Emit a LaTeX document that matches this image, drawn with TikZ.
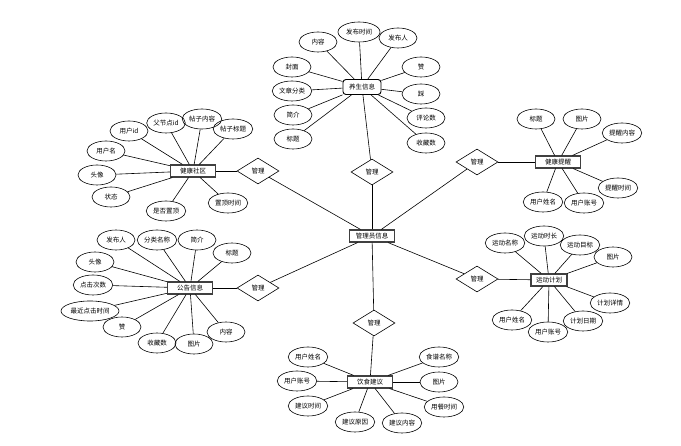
\documentclass[tikz,border=0pt]{standalone}
\usepackage{fontspec}
\newfontfamily\cjk{Noto Sans CJK SC}
\usetikzlibrary{shapes.geometric}

\begin{document}
\begin{tikzpicture}[x=1pt,y=-1pt,line width=0.6pt,
	every node/.append style={font=\cjk\fontsize{6.5}{7}\selectfont},
	attr/.style={draw,ellipse,minimum width=38pt,minimum height=20pt,inner sep=1pt},
	ent/.style={draw=black!75,line width=1.1pt,minimum width=45pt,minimum height=12pt,inner sep=1pt},
	rel/.style={draw,diamond,aspect=1.7,minimum width=42pt,minimum height=26pt,inner sep=0pt}]
	\useasboundingbox (0,0) rectangle (681,446);
	
	% entities
	\node[ent] at (372,236) (admin){管理员信息};
	\node[draw,rounded corners=3pt,line width=0.9pt,minimum width=38pt,minimum height=15pt,inner sep=1pt] at (362,87) (ys){养生信息};
	\node[ent] at (193,171) (sq){健康社区};
	\node[ent] at (190,288) (gg){公告信息};
	\node[ent] at (558,162) (tx){健康提醒};
	\node[ent,minimum width=36pt] at (549,280) (yd){运动计划};
	\node[ent] at (370,382) (ys2){饮食建议};
	
	% relations
	\node[rel] at (372,172) (r1){管理};
	\node[rel] at (258,171) (r2){管理};
	\node[rel] at (258,288) (r3){管理};
	\node[rel] at (477,162) (r4){管理};
	\node[rel] at (477,279) (r5){管理};
	\node[rel] at (374,323) (r6){管理};
	
	% attributes
	\begin{scope}[every node/.append style={attr}]
	\node at (318,42) (ys-a){内容};
	\node[minimum width=42pt] at (359,32) (ys-b){发布时间};
	\node at (398,38) (ys-c){发布人};
	\node at (292,67) (ys-d){封面};
	\node at (292,91) (ys-e){文章分类};
	\node at (293,115) (ys-f){简介};
	\node at (293,139) (ys-g){标题};
	\node at (421,67) (ys-h){赞};
	\node at (421,94) (ys-i){踩};
	\node at (426,118) (ys-j){评论数};
	\node at (426,143) (ys-k){收藏数};
	
	\node at (129,131) (sq-a){用户id};
	\node at (166,123) (sq-b){父节点id};
	\node at (202,119) (sq-c){帖子内容};
	\node at (233,129) (sq-d){帖子标题};
	\node at (106,151) (sq-e){用户名};
	\node at (97,175) (sq-f){头像};
	\node at (111,197) (sq-g){状态};
	\node at (166,211) (sq-h){是否置顶};
	\node at (228,203) (sq-i){置顶时间};
	
	\node at (116,240) (gg-a){发布人};
	\node at (157,240) (gg-b){分类名称};
	\node at (197,240) (gg-c){简介};
	\node at (232,253) (gg-d){标题};
	\node at (95,262) (gg-e){头像};
	\node at (93,285) (gg-f){点击次数};
	\node at (90,311) (gg-g){最近点击时间};
	\node at (122,327) (gg-h){赞};
	\node at (157,343) (gg-i){收藏数};
	\node at (194,344) (gg-j){图片};
	\node at (226,332) (gg-k){内容};
	
	\node at (536,119) (tx-a){标题};
	\node at (582,119) (tx-b){图片};
	\node at (622,133) (tx-c){提醒内容};
	\node at (618,188) (tx-d){提醒时间};
	\node at (543,202) (tx-e){用户姓名};
	\node at (584,203) (tx-f){用户账号};
	
	\node at (505,243) (yd-a){运动名称};
	\node at (544,236) (yd-b){运动时长};
	\node at (580,245) (yd-c){运动目标};
	\node at (613,257) (yd-d){图片};
	\node at (610,303) (yd-e){计划详情};
	\node at (583,321) (yd-f){计划日期};
	\node at (548,332) (yd-g){用户账号};
	\node at (512,320) (yd-h){用户姓名};
	
	\node at (308,357) (ys2-a){用户姓名};
	\node at (297,381) (ys2-b){用户账号};
	\node at (308,406) (ys2-c){建议时间};
	\node at (355,422) (ys2-d){建议原因};
	\node at (402,423) (ys2-e){建议内容};
	\node at (439,357) (ys2-f){食谱名称};
	\node at (439,382) (ys2-g){图片};
	\node at (444,407) (ys2-h){用餐时间};
	\end{scope}
	
	% connectors
	\path (admin) edge (r1) edge (r2) edge (r3) edge (r4) edge (r5) edge (r6);
	\path (r1) edge (ys);
	\path (r2) edge (sq);
	\path (r3) edge (gg);
	\path (r4) edge (tx);
	\path (r5) edge (yd);
	\path (r6) edge (ys2);
	\path (ys) edge (ys-a) edge (ys-b) edge (ys-c) edge (ys-d) edge (ys-e) edge (ys-f)
		edge (ys-g) edge (ys-h) edge (ys-i) edge (ys-j) edge (ys-k);
	\path (sq) edge (sq-a) edge (sq-b) edge (sq-c) edge (sq-d) edge (sq-e) edge (sq-f)
		edge (sq-g) edge (sq-h) edge (sq-i);
	\path (gg) edge (gg-a) edge (gg-b) edge (gg-c) edge (gg-d) edge (gg-e) edge (gg-f)
		edge (gg-g) edge (gg-h) edge (gg-i) edge (gg-j) edge (gg-k);
	\path (tx) edge (tx-a) edge (tx-b) edge (tx-c) edge (tx-d) edge (tx-e) edge (tx-f);
	\path (yd) edge (yd-a) edge (yd-b) edge (yd-c) edge (yd-d) edge (yd-e) edge (yd-f)
		edge (yd-g) edge (yd-h);
	\path (ys2) edge (ys2-a) edge (ys2-b) edge (ys2-c) edge (ys2-d) edge (ys2-e)
		edge (ys2-f) edge (ys2-g) edge (ys2-h);
\end{tikzpicture}
\end{document}
